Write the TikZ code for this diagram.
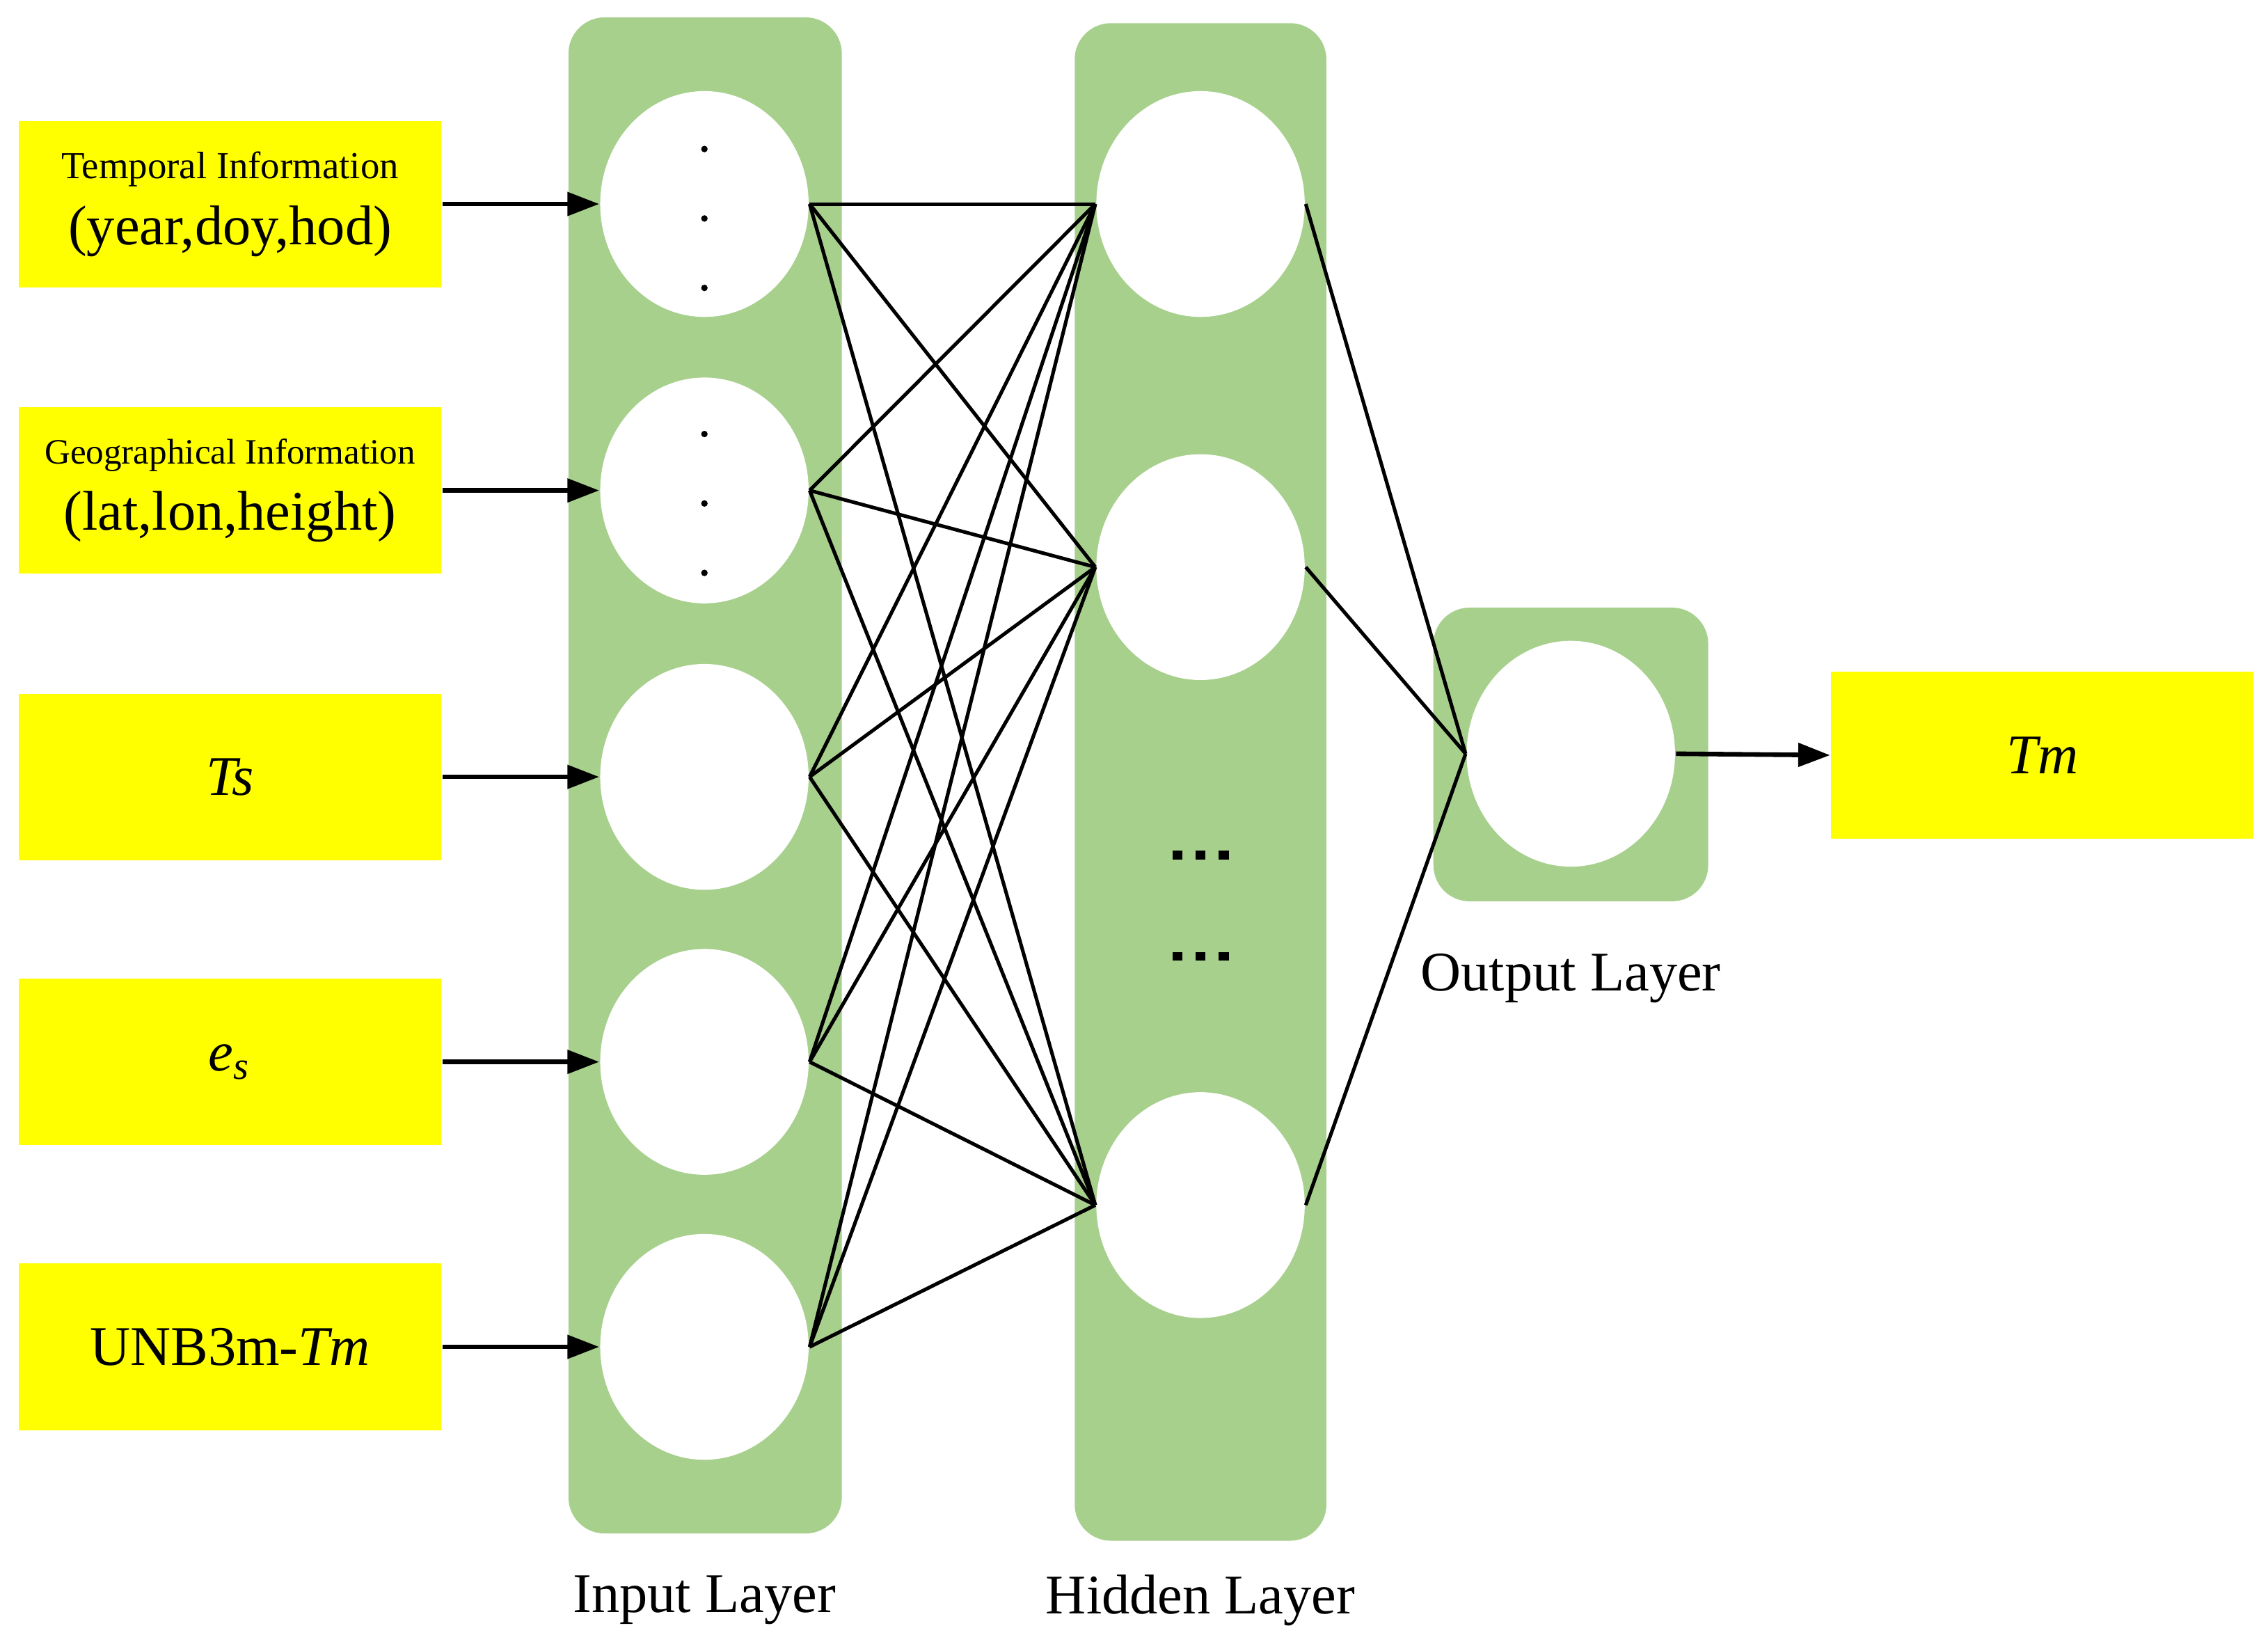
\documentclass[tikz,border=0pt]{standalone}
\usepackage{fontspec}
\setmainfont{Liberation Serif}
\usetikzlibrary{shapes.geometric,arrows.meta}
\definecolor{lgreen}{RGB}{168,208,141}
\definecolor{ybox}{RGB}{255,255,0}
\begin{document}
\begin{tikzpicture}[x=0.01cm,y=-0.01cm,
  layer/.style={fill=lgreen,rounded corners=0.25cm},
  neuron/.style={ellipse,fill=white,minimum width=1.44cm,minimum height=1.56cm,inner sep=0pt},
  inbox/.style={fill=ybox,minimum width=2.92cm,minimum height=1.15cm,align=center,inner sep=0pt},
  big/.style={font=\fontsize{11}{13}\selectfont},
  feed/.style={-{Triangle[length=0.22cm,width=0.16cm]},line width=0.9pt},
  link/.style={line width=0.7pt},
  dot/.style={circle,fill=black,inner sep=0pt,minimum size=0.045cm},
  sq/.style={fill=black,inner sep=0pt,minimum width=0.07cm,minimum height=0.06cm}]
\useasboundingbox (0,0) rectangle (1568,1141);
% layers
\fill[layer] (393,12) rectangle (582,1060);
\fill[layer] (743,16) rectangle (917,1065);
\fill[layer] (991,420) rectangle (1181,623);
% input boxes
\node[inbox] (b1) at (159,141) {{\fontsize{7.5}{9}\selectfont Temporal Information}\\[1pt]{\fontsize{11}{13}\selectfont (year,doy,hod)}};
\node[inbox] (b2) at (159,339) {{\fontsize{7}{9}\selectfont Geographical Information}\\[1pt]{\fontsize{11}{13}\selectfont (lat,lon,height)}};
\node[inbox,big] (b3) at (159,537) {\textit{Ts}};
\node[inbox,big] (b4) at (159,734) {\textit{e}\textsubscript{\textit{s}}};
\node[inbox,big] (b5) at (159,931) {UNB3m-\textit{Tm}};
\node[inbox,big] (out) at (1412,522) {\textit{Tm}};
% neurons
\foreach \i/\y in {1/141,2/392,3/833}
  \node[neuron] (h\i) at (830,\y) {};
\foreach \i/\y in {1/141,2/339,3/537,4/734,5/931}
  \node[neuron] (i\i) at (487,\y) {};
\node[neuron] (o) at (1086,521) {};
% dots in first input neurons
\foreach \y in {103,151,199,300,348,396}
  \node[dot] at (487,\y) {};
\foreach \y in {591,661}
  \foreach \x in {814,830,846}
    \node[sq] at (\x,\y) {};
% labels
\node[big] at (487,1106) {Input Layer};
\node[big] at (830,1106) {Hidden Layer};
\node[big] at (1086,676) {Output Layer};
% arrows
\foreach \i in {1,...,5}
  \draw[feed] (b\i.east) -- (i\i.west);
\draw[feed] (o.east) -- (out.west);
% connections
\foreach \i in {1,...,5}
  \foreach \j in {1,2,3}
    \draw[link] (i\i.east) -- (h\j.west);
\foreach \j in {1,2,3}
  \draw[link] (h\j.east) -- (o.west);
\end{tikzpicture}
\end{document}
